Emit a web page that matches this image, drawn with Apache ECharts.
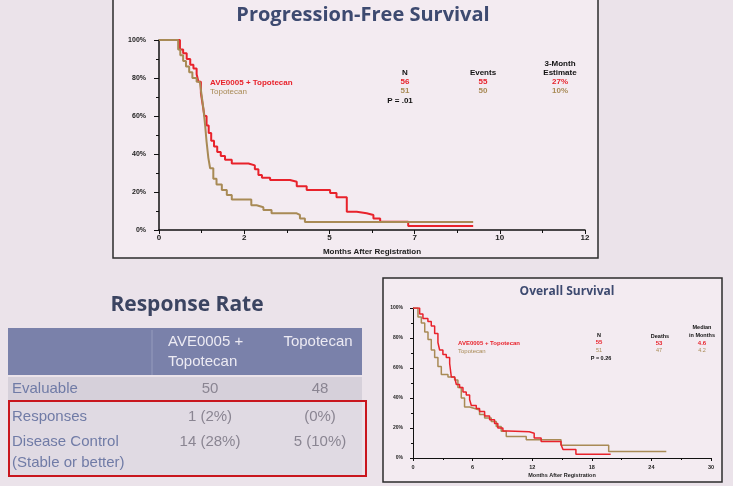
<!DOCTYPE html>
<html><head><meta charset="utf-8">
<script src="https://cdn.jsdelivr.net/npm/echarts@6/dist/echarts.min.js"></script>
<style>html,body{margin:0;padding:0;background:#ebe3ea;}#c{width:733px;height:486px;}</style>
</head><body><div id="c"></div>
<script>
// ---- Progression-Free Survival (months, % surviving) ----
const pfsComboMonths = [0,0.59,0.68,0.78,0.88,0.97,1.06,1.11,1.18,1.23,1.28,1.34,1.40,1.47,1.55,1.64,1.74,1.86,2.05,2.52,2.70,2.80,2.90,3.13,3.69,3.88,4.16,4.82,5.00,5.29,5.57,5.85,6.04,6.23,7.02,8.85];
const pfsComboSurv   = [100,95,93,90,87,85,82,78,72,66,60,55,51,47,44,41,39,37,35,34,32,29,27.5,26.3,25.4,23,21,19.5,17.3,9.6,8.8,7.9,6.1,4.4,2.1,2.1];
const pfsTopoMonths  = [0,0.54,0.60,0.68,0.76,0.85,0.94,1.06,1.15,1.20,1.25,1.30,1.34,1.39,1.44,1.53,1.62,1.77,1.91,2.05,2.60,2.75,2.94,3.17,3.88,3.97,4.11,8.85];
const pfsTopoSurv    = [100,95,92,89,86,83,80,78,77,71,64,55,46.5,38,32.5,27,24,21,18.4,16,13,12,10.5,8.8,7.9,6.1,4.2,4.2];
// ---- Overall Survival ----
const osComboMonths = [0,0.67,1.0,1.5,1.84,2.18,2.51,2.68,3.01,3.35,3.69,3.86,4.19,4.36,4.69,5.03,5.36,5.70,5.87,6.37,6.70,7.21,7.71,8.21,8.54,9.05,9.55,11.7,12.2,12.9,14.9,15.1,16.4,19.9];
const osComboSurv   = [100,96,93,91,88,83,77,72,69,67,63,54,53,49,47,44,42,39,35,33,31,28,25.5,23,20,18,17.5,16.5,13.3,11,9,5.6,2.5,2.5];
const osTopoMonths  = [0,0.5,0.84,1.18,1.51,1.84,2.18,2.51,2.85,3.52,4.19,4.52,4.86,5.19,5.70,6.20,6.70,7.21,7.88,8.38,8.88,9.39,11.4,14.9,19.7,25.5];
const osTopoSurv    = [100,94,90,84,79,72,67,61,55.6,54,52,47,40,34,33,32,29,26.7,24.4,21,17.8,14.4,12.2,8.5,4.4,4.4];
// ---- Response rate table ----
const tableHeader = ['AVE0005 +\nTopotecan', 'Topotecan'];
const rowLabels   = ['Evaluable', 'Responses', 'Disease Control', '(Stable or better)'];
const comboValues = ['50', '1 (2%)', '14 (28%)', ''];
const topoValues  = ['48', '(0%)', '5 (10%)', ''];

const RED = '#e8222b', BROWN = '#a88a55';
const sans = 'Liberation Sans';
const pairs = (xs, ys) => xs.map((x, i) => [x, ys[i]]);

const chart = echarts.init(document.getElementById('c'), null, {renderer: 'canvas'});

function txt(x, y, text, opts) {
  return Object.assign({type: 'text', x: x, y: y, z: 5, style: Object.assign({
    text: text, fontFamily: sans, fontWeight: 'bold', fontSize: 8, fill: '#111',
    textAlign: 'center', textVerticalAlign: 'middle'}, opts || {})});
}

const rowY = [389, 417, 442, 463];
const g = [
  // panels
  {type: 'rect', z: -10, shape: {x: 113, y: -3, width: 485, height: 261}, style: {fill: '#f3ebf1', stroke: '#2c2c2c', lineWidth: 1.5}},
  {type: 'rect', z: -10, shape: {x: 383, y: 278, width: 339, height: 204}, style: {fill: '#f3ebf1', stroke: '#2c2c2c', lineWidth: 1.5}},
  // table
  {type: 'rect', z: -10, shape: {x: 8, y: 328, width: 354, height: 47}, style: {fill: '#7a81aa'}},
  {type: 'line', z: -9, shape: {x1: 152, y1: 330, x2: 152, y2: 375}, style: {stroke: '#959bbd', lineWidth: 1}},
  {type: 'rect', z: -10, shape: {x: 8, y: 377, width: 354, height: 23}, style: {fill: '#d6d0da'}},
  {type: 'rect', z: -10, shape: {x: 8, y: 400, width: 354, height: 76}, style: {fill: '#e0dae3'}},
  {type: 'rect', z: -8, shape: {x: 9, y: 401, width: 357, height: 75}, style: {fill: 'none', stroke: '#c9161e', lineWidth: 2}},
  txt(187, 305, 'Response Rate', {fontFamily: 'Open Sans', fontSize: 21, fill: '#3b4461'}),
  txt(168, 352, tableHeader[0], {fontWeight: 'normal', fontSize: 15, fill: '#eceaf3', textAlign: 'left', lineHeight: 20}),
  txt(318, 342, tableHeader[1], {fontWeight: 'normal', fontSize: 15, fill: '#eceaf3'}),
  // PFS legend & stats
  txt(210, 83, 'AVE0005 + Topotecan', {fill: RED, textAlign: 'left', fontSize: 8}),
  txt(210, 92, 'Topotecan', {fill: BROWN, textAlign: 'left', fontSize: 8, fontWeight: 'normal'}),
  txt(405, 73, 'N'), txt(405, 82, '56', {fill: RED}), txt(405, 91, '51', {fill: BROWN}),
  txt(400, 101, 'P = .01'),
  txt(483, 73, 'Events'), txt(483, 82, '55', {fill: RED}), txt(483, 91, '50', {fill: BROWN}),
  txt(560, 64, '3-Month'), txt(560, 73, 'Estimate'), txt(560, 82, '27%', {fill: RED}), txt(560, 91, '10%', {fill: BROWN}),
  // OS legend & stats
  txt(458, 343, 'AVE0005 + Topotecan', {fill: RED, textAlign: 'left', fontSize: 6}),
  txt(458, 351, 'Topotecan', {fill: BROWN, textAlign: 'left', fontSize: 6, fontWeight: 'normal'}),
  txt(599, 335, 'N', {fontSize: 5.5}), txt(599, 342.5, '55', {fill: RED, fontSize: 6}), txt(599, 350, '51', {fill: BROWN, fontSize: 5.5, fontWeight: 'normal'}),
  txt(601, 358, 'P = 0.26', {fontSize: 5.5}),
  txt(660, 336, 'Deaths', {fontSize: 5.5}), txt(659, 343, '53', {fill: RED, fontSize: 6}), txt(659, 350.5, '47', {fill: BROWN, fontSize: 5.5, fontWeight: 'normal'}),
  txt(702, 327, 'Median', {fontSize: 5.5}), txt(702, 335, 'in Months', {fontSize: 5.5}), txt(702, 343, '4.6', {fill: RED, fontSize: 6}), txt(702, 350.5, '4.2', {fill: BROWN, fontSize: 5.5, fontWeight: 'normal'})
];
rowLabels.forEach((l, i) => {
  g.push(txt(12, rowY[i], l, {fontWeight: 'normal', fontSize: 15, fill: '#707ba6', textAlign: 'left'}));
  if (comboValues[i]) g.push(txt(210, rowY[i], comboValues[i], {fontWeight: 'normal', fontSize: 15, fill: '#8a8592'}));
  if (topoValues[i]) g.push(txt(320, rowY[i], topoValues[i], {fontWeight: 'normal', fontSize: 15, fill: '#8a8592'}));
});

function xAx(idx, max, interval, fs, fmt, gap, margin) {
  return {type: 'value', gridIndex: idx, min: 0, max: max, interval: interval,
    axisLine: {onZero: false, lineStyle: {color: '#111', width: idx === 0 ? 1.5 : 1}},
    axisTick: {length: idx === 0 ? 4 : 3, lineStyle: {color: '#111'}},
    minorTick: {show: true, splitNumber: 2, length: idx === 0 ? 3 : 2, lineStyle: {color: '#111'}},
    splitLine: {show: false},
    axisLabel: {fontFamily: sans, fontWeight: 'bold', fontSize: fs, color: '#222', margin: margin, formatter: fmt},
    name: 'Months After Registration', nameLocation: 'middle', nameGap: gap,
    nameTextStyle: {fontFamily: sans, fontWeight: 'bold', fontSize: idx === 0 ? 8 : 5.5, color: '#222'}};
}
function yAx(idx, fs, margin) {
  return {type: 'value', gridIndex: idx, min: 0, max: 100, interval: 20,
    axisLine: {show: true, lineStyle: {color: '#111', width: idx === 0 ? 1.5 : 1}},
    axisTick: {show: true, length: idx === 0 ? 5 : 3, lineStyle: {color: '#111'}},
    minorTick: {show: true, splitNumber: 2, length: idx === 0 ? 3 : 2, lineStyle: {color: '#111'}},
    splitLine: {show: false},
    axisLabel: {fontFamily: sans, fontWeight: 'bold', fontSize: fs, color: '#222', margin: margin, formatter: '{value}%'}};
}

chart.setOption({
  backgroundColor: '#ebe3ea',
  animation: false,
  title: [
    {text: 'Progression-Free Survival', left: 358, top: 0, textAlign: 'center',
     textStyle: {fontFamily: 'Open Sans', fontWeight: 'bold', fontSize: 20, color: '#3d4a70'}},
    {text: 'Overall Survival', left: 562, top: 281, textAlign: 'center',
     textStyle: {fontFamily: 'Open Sans', fontWeight: 'bold', fontSize: 12, color: '#3d4a70'}}
  ],
  grid: [
    {left: 159, top: 40, width: 426, height: 190},
    {left: 413, top: 308, width: 298, height: 150}
  ],
  xAxis: [xAx(0, 12, 2.4, 8, v => String(Math.round(v)), 18, 4), xAx(1, 30, 6, 5.5, v => String(v), 14, 6)],
  yAxis: [yAx(0, 7, 13), yAx(1, 5, 10)],
  graphic: {elements: g},
  series: [
    {type: 'line', step: 'end', xAxisIndex: 0, yAxisIndex: 0, symbol: 'none', data: pairs(pfsComboMonths, pfsComboSurv), lineStyle: {color: RED, width: 2}, z: 3},
    {type: 'line', step: 'end', xAxisIndex: 0, yAxisIndex: 0, symbol: 'none', data: pairs(pfsTopoMonths, pfsTopoSurv), lineStyle: {color: BROWN, width: 2}, z: 4},
    {type: 'line', step: 'end', xAxisIndex: 1, yAxisIndex: 1, symbol: 'none', data: pairs(osTopoMonths, osTopoSurv), lineStyle: {color: BROWN, width: 1.5}, z: 3},
    {type: 'line', step: 'end', xAxisIndex: 1, yAxisIndex: 1, symbol: 'none', data: pairs(osComboMonths, osComboSurv), lineStyle: {color: RED, width: 1.5}, z: 4}
  ]
});
</script></body></html>
